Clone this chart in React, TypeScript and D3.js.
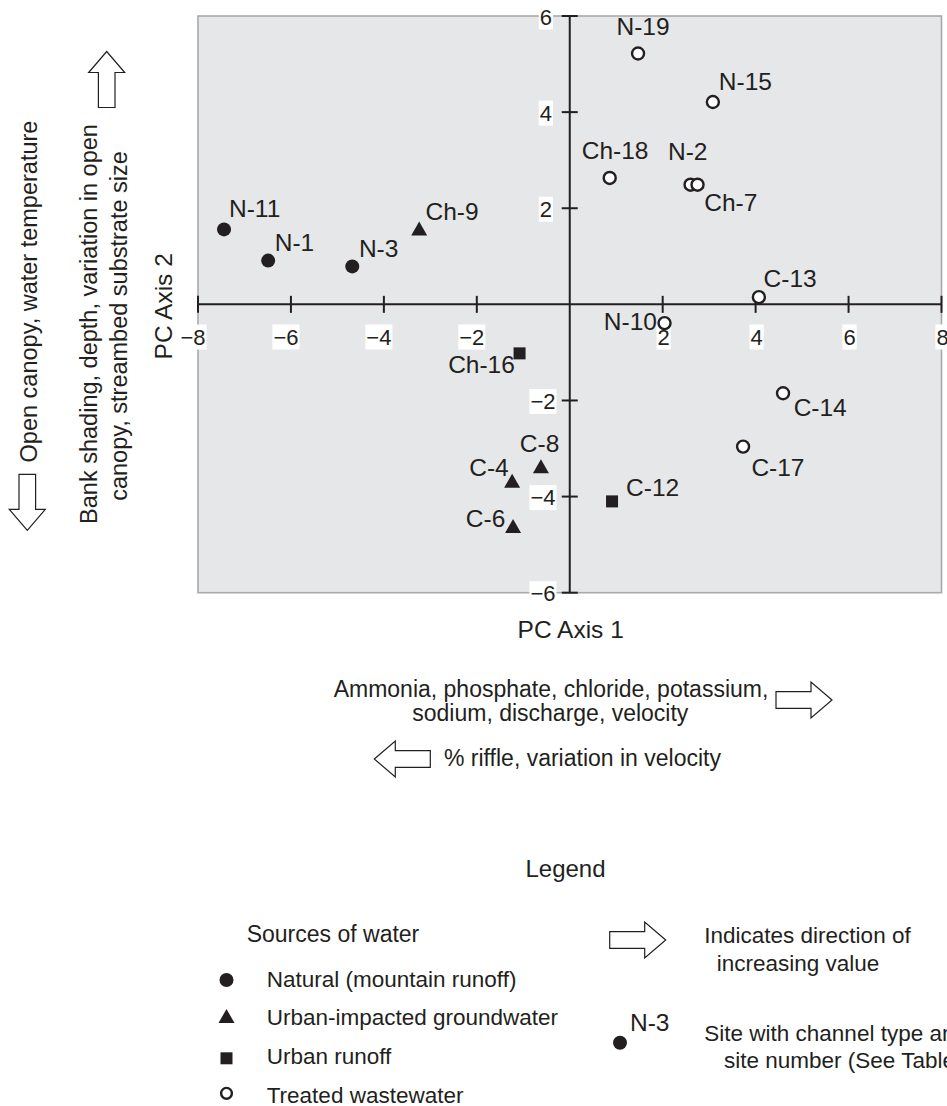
import React, { useEffect, useRef } from "react";
import * as d3 from "d3";

// ---- Data ----
const sites = ["N-11", "N-1", "N-3", "Ch-9", "N-19", "N-15", "Ch-18", "N-2", "Ch-7", "C-13", "N-10", "Ch-16", "C-8", "C-4", "C-6", "C-12", "C-14", "C-17"];
const pc1 = [-7.44, -6.49, -4.68, -3.24, 1.47, 3.08, 0.86, 2.6, 2.75, 4.07, 2.04, -1.08, -0.62, -1.24, -1.22, 0.91, 4.59, 3.73];
const pc2 = [1.56, 0.91, 0.79, 1.58, 5.22, 4.21, 2.63, 2.49, 2.49, 0.15, -0.39, -1.02, -3.37, -3.67, -4.61, -4.1, -1.85, -2.96];
const sources = ["natural", "natural", "natural", "groundwater", "wastewater", "wastewater", "wastewater", "wastewater", "wastewater", "wastewater", "wastewater", "runoff", "groundwater", "groundwater", "groundwater", "runoff", "wastewater", "wastewater"];

const xTicks = [-8, -6, -4, -2, 2, 4, 6, 8];
const yTicks = [-6, -4, -2, 2, 4, 6];

const legendKeys = ["natural", "groundwater", "runoff", "wastewater"];
const legendLabels = ["Natural (mountain runoff)", "Urban-impacted groundwater", "Urban runoff", "Treated wastewater"];

// ---- Layout (label placement relative to marker) ----
const labelPlacement: Record<string, [string, number, number]> = {
  "N-11": ["start", 5, -12.6],
  "N-1": ["start", 6.6, -9.3],
  "N-3": ["start", 6.6, -9.4],
  "Ch-9": ["start", 6.3, -8.3],
  "N-19": ["middle", 5, -18.3],
  "N-15": ["start", 6, -12.3],
  "Ch-18": ["middle", 5.4, -19],
  "N-2": ["middle", -2.8, -24.3],
  "Ch-7": ["start", 6.7, 26.7],
  "C-13": ["start", 4.7, -10],
  "N-10": ["end", -7.6, 6.7],
  "Ch-16": ["end", -4.7, 19.4],
  "C-8": ["middle", -1.4, -14],
  "C-4": ["end", -3.4, -5],
  "C-6": ["end", -7.7, 0.7],
  "C-12": ["start", 14, -5.7],
  "C-14": ["start", 10.6, 22.7],
  "C-17": ["start", 8.3, 29],
};

const INK = "#231f20";
const FONT = "'Liberation Sans', Arial, Helvetica, sans-serif";

function arrowPath(tx: number, ty: number, dir: "up" | "down" | "left" | "right") {
  const L = 56, H = 21, HH = 18, SH = 8.3;
  // pointing right with tip at origin, body towards negative x
  const pts: [number, number][] = [
    [0, 0], [-H, -HH], [-H, -SH], [-L, -SH], [-L, SH], [-H, SH], [-H, HH],
  ];
  const rot = (p: [number, number]): [number, number] => {
    const [x, y] = p;
    if (dir === "right") return [x, y];
    if (dir === "left") return [-x, y];
    if (dir === "up") return [y, -x];
    return [y, x];
  };
  return "M" + pts.map(rot).map(([x, y]) => `${tx + x},${ty + y}`).join("L") + "Z";
}

function drawMarker(g: any, kind: string, cx: number, cy: number, scale = 1) {
  if (kind === "natural") {
    g.append("circle").attr("cx", cx).attr("cy", cy).attr("r", 7 * scale).attr("fill", INK);
  } else if (kind === "wastewater") {
    g.append("circle").attr("cx", cx).attr("cy", cy).attr("r", 6 * scale).attr("fill", "#fff").attr("stroke", INK).attr("stroke-width", 2.4);
  } else if (kind === "groundwater") {
    const hw = 8 * scale, hh = 7 * scale;
    g.append("path").attr("d", `M${cx},${cy - hh}L${cx - hw},${cy + hh}L${cx + hw},${cy + hh}Z`).attr("fill", INK);
  } else {
    const s = 12 * scale;
    g.append("rect").attr("x", cx - s / 2).attr("y", cy - s / 2).attr("width", s).attr("height", s).attr("fill", INK);
  }
}

export default function App() {
  const ref = useRef<SVGSVGElement | null>(null);

  useEffect(() => {
    const svg = d3.select(ref.current);
    svg.selectAll("*").remove();

    const x = d3.scaleLinear().domain([-8, 8]).range([198, 941.5]);
    const y = d3.scaleLinear().domain([-6, 6]).range([592.7, 16]);

    const root = svg.append("g").attr("font-family", FONT).attr("fill", INK);

    // plot background
    root.append("rect")
      .attr("x", x(-8)).attr("y", y(6))
      .attr("width", x(8) - x(-8)).attr("height", y(-6) - y(6))
      .attr("fill", "#e6e7e8").attr("stroke", "#a7a9ac").attr("stroke-width", 1.6);

    // axes lines
    root.append("line").attr("x1", x(-8)).attr("x2", x(8)).attr("y1", y(0)).attr("y2", y(0)).attr("stroke", INK).attr("stroke-width", 2);
    root.append("line").attr("x1", x(0)).attr("x2", x(0)).attr("y1", y(6)).attr("y2", y(-6)).attr("stroke", INK).attr("stroke-width", 2);

    // ticks
    const tg = root.append("g");
    xTicks.forEach((t) => {
      tg.append("line").attr("x1", x(t)).attr("x2", x(t)).attr("y1", y(0) - 8.5).attr("y2", y(0) + 8.5).attr("stroke", INK).attr("stroke-width", 2);
    });
    yTicks.forEach((t) => {
      tg.append("line").attr("x1", x(0) - 8).attr("x2", x(0) + 8).attr("y1", y(t)).attr("y2", y(t)).attr("stroke", INK).attr("stroke-width", 2);
    });

    const fmt = (v: number) => (v < 0 ? "\u2212" + Math.abs(v) : String(v));

    const labelWithBox = (g: any, txt: string, px: number, py: number, anchor: string, fs: number) => {
      const lg = g.append("g");
      const rect = lg.append("rect").attr("fill", "#fff");
      const t = lg.append("text").attr("x", px).attr("y", py).attr("text-anchor", anchor).attr("font-size", fs).text(txt);
      const bb = (t.node() as SVGTextElement).getBBox();
      rect.attr("x", bb.x - 1).attr("y", bb.y).attr("width", bb.width + 2).attr("height", bb.height);
    };

    xTicks.forEach((t) => {
      labelWithBox(root, fmt(t), x(t) + (t < 0 ? -5 : 1), 344.5, "middle", 22);
    });
    yTicks.forEach((t) => {
      labelWithBox(root, fmt(t), t < 0 ? 555.5 : 552, y(t) + 8.5, "end", 22);
    });

    // points
    const pg = root.append("g");
    sites.forEach((s, i) => {
      drawMarker(pg, sources[i], x(pc1[i]), y(pc2[i]));
    });
    sites.forEach((s, i) => {
      const [anchor, dx, dy] = labelPlacement[s];
      pg.append("text")
        .attr("x", x(pc1[i]) + dx).attr("y", y(pc2[i]) + dy)
        .attr("text-anchor", anchor).attr("font-size", 24.5).text(s);
    });

    // y-side annotations (rotated)
    const rot = (txt: string, tx: number, ty: number, fs: number) =>
      root.append("text").attr("transform", `translate(${tx},${ty}) rotate(-90)`).attr("text-anchor", "middle").attr("font-size", fs).text(txt);
    rot("Open canopy, water temperature", 36.5, 291.5, 23.5);
    rot("Bank shading, depth, variation in open", 96.8, 324, 23.5);
    rot("canopy, streambed substrate size", 127, 326, 23.5);
    rot("PC Axis 2", 172, 306.3, 24.5);

    const arrow = (tx: number, ty: number, dir: any) =>
      root.append("path").attr("d", arrowPath(tx, ty, dir)).attr("fill", "#fff").attr("stroke", INK).attr("stroke-width", 1.2);
    arrow(106.7, 51.5, "up");
    arrow(27.3, 530.4, "down");
    arrow(832, 700, "right");
    arrow(374.3, 759, "left");
    arrow(665.7, 940, "right");

    // x-side annotations
    const txt = (s: string, tx: number, ty: number, fs: number, anchor = "start") =>
      root.append("text").attr("x", tx).attr("y", ty).attr("font-size", fs).attr("text-anchor", anchor).text(s);
    txt("PC Axis 1", 570.7, 637.7, 24.5, "middle");
    txt("Ammonia, phosphate, chloride, potassium,", 551, 696.7, 23, "middle");
    txt("sodium, discharge, velocity", 550.3, 720.7, 23, "middle");
    txt("% riffle, variation in velocity", 444, 766, 23);

    // legend
    txt("Legend", 565.5, 877.3, 24, "middle");
    txt("Sources of water", 246.7, 942.3, 23);
    const legY = [987.3, 1025, 1064.3, 1102.7];
    const legMarkY = [980, 1016, 1058.3, 1093.3];
    const lg = root.append("g");
    legendKeys.forEach((k, i) => {
      drawMarker(lg, k, 226.5, legMarkY[i], k === "wastewater" ? 0.9 : 1);
      txt(legendLabels[i], 266.7, legY[i], 22.5);
    });
    txt("Indicates direction of", 704.3, 942.7, 22.5);
    txt("increasing value", 716.7, 970.7, 22.5);
    drawMarker(lg, "natural", 620, 1042.7);
    txt("N-3", 630, 1030.7, 24.5);
    txt("Site with channel type and", 704.3, 1040.7, 22.5);
    txt("site number (See Table 1)", 724, 1068.3, 22.5);
  }, []);

  return (
    <svg
      ref={ref}
      width={947}
      height={1106}
      style={{ position: "absolute", left: 0, top: 0, background: "#fff" }}
    />
  );
}
